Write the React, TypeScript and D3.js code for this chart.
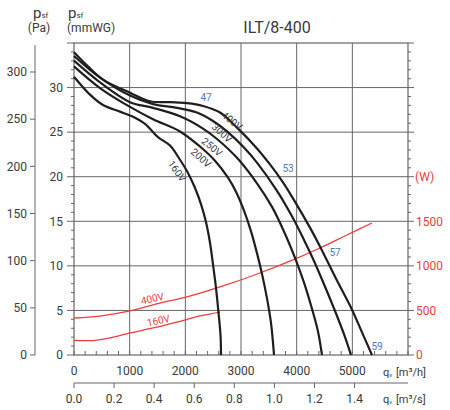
import React from "react";
import * as d3 from "d3";

// Fan curves: flow q [m³/h], static pressure psf [Pa]
const q400 = [0, 251, 521, 1006, 1365, 1725, 2030, 2317, 2623, 2928, 3287, 3521, 3754, 3934, 4239, 4419, 4706, 4994, 5174, 5353];
const p400 = [321, 306, 292, 278, 269, 268, 267, 264, 257, 241, 219, 202, 183, 166, 135, 115, 81, 48, 24, 0];
const q300 = [0, 467, 1006, 1419, 1850, 2209, 2497, 2748, 3036, 3287, 3647, 3916, 4132, 4293, 4491, 4707, 4850, 4976];
const p300 = [317, 294, 275, 266, 262, 257, 248, 237, 221, 204, 174, 147, 122, 102, 75, 44, 22, 0];
const q250 = [0, 467, 1006, 1419, 1904, 2317, 2569, 2928, 3287, 3557, 3772, 3970, 4131, 4275, 4383, 4455];
const p250 = [312, 289, 268, 262, 253, 240, 229, 209, 182, 157, 131, 103, 77, 49, 25, 0];
const q200 = [0, 467, 1006, 1419, 1904, 2263, 2533, 2767, 2910, 3054, 3180, 3287, 3377, 3467, 3539, 3593];
const p200 = [306, 283, 263, 250, 237, 221, 206, 188, 173, 153, 131, 108, 86, 60, 34, 0];
const q160 = [0, 287, 521, 826, 1042, 1275, 1509, 1725, 1904, 2048, 2174, 2281, 2371, 2443, 2497, 2551, 2596, 2632, 2641];
const p160 = [295, 276, 265, 258, 253, 245, 231, 222, 207, 193, 177, 160, 141, 119, 96, 71, 45, 21, 0];

// Power curves: flow q [m³/h], power [W]
const qW400 = [0, 467, 1006, 1545, 2030, 2622, 3341, 3933, 4418, 4903, 5352];
const w400 = [415, 437, 494, 583, 651, 763, 920, 1066, 1200, 1346, 1481];
const qW160 = [0, 341, 647, 1006, 1419, 1850, 2263, 2622];
const w160 = [165, 162, 191, 247, 303, 370, 438, 482];

// Ticks
const paTicks = [0, 50, 100, 150, 200, 250, 300];
const mmTicks = [0, 5, 10, 15, 20, 25, 30];
const wTicks = [0, 500, 1000, 1500];
const qhTicks = [0, 1000, 2000, 3000, 4000, 5000];
const qsTicks = [0, 0.2, 0.4, 0.6, 0.8, 1.0, 1.2, 1.4];

// Labels
const curveNames = ["400V", "300V", "250V", "200V", "160V"];
const soundLabels = ["47", "53", "57", "59"];

const X0 = 74, X1 = 408, Y0 = 355, Y1 = 43;

export default function App() {
  const x = d3.scaleLinear().domain([0, 6000]).range([X0, X1]);
  const xs = d3.scaleLinear().domain([0, 6000 / 3600]).range([X0, X1]);
  const yMm = d3.scaleLinear().domain([0, 35]).range([Y0, Y1]);
  const yPa = d3.scaleLinear().domain([0, 300]).range([Y0, 72]);
  const yW = d3.scaleLinear().domain([0, 3500]).range([Y0, Y1]);

  const fanLine = d3
    .line<[number, number]>()
    .x((d) => x(d[0]))
    .y((d) => yPa(d[1]))
    .curve(d3.curveCatmullRom.alpha(0.5));
  const powLine = d3
    .line<[number, number]>()
    .x((d) => x(d[0]))
    .y((d) => yW(d[1]))
    .curve(d3.curveCatmullRom.alpha(0.5));

  const zip = (a: number[], b: number[]) => a.map((v, i) => [v, b[i]] as [number, number]);
  const fans = [
    zip(q400, p400),
    zip(q300, p300),
    zip(q250, p250),
    zip(q200, p200),
    zip(q160, p160),
  ];

  const font = "Roboto, 'DejaVu Sans', sans-serif";
  const grid = "#666";
  const txt = "#3a3a3a";
  const red = "#f23c3c";
  const blue = "#4f78c4";

  const mmMinor = d3.range(0, 36, 1);
  const wMinor = d3.range(0, 3501, 100);
  const qMinor = d3.range(0, 6001, 200);

  const curveLabelPos = [
    { x: 232, y: 121, a: 38 },
    { x: 222, y: 133, a: 42 },
    { x: 212, y: 147, a: 40 },
    { x: 201, y: 158, a: 42 },
    { x: 177, y: 171, a: 55 },
  ];
  const soundPos = [
    { x: 206, y: 101 },
    { x: 288, y: 172 },
    { x: 335, y: 256 },
    { x: 377, y: 350 },
  ];

  return (
    <svg
      width={450}
      height={410}
      style={{ position: "absolute", left: 0, top: 0, background: "#fff" }}
      fontFamily={font}
    >
      <rect x={0} y={0} width={450} height={410} fill="#fff" />
      {mmTicks.slice(1).map((t) => (
        <line key={"h" + t} x1={X0} x2={X1} y1={yMm(t)} y2={yMm(t)} stroke={grid} strokeWidth={1} />
      ))}
      {qhTicks.slice(1).map((t) => (
        <line key={"v" + t} x1={x(t)} x2={x(t)} y1={Y1} y2={Y0} stroke={grid} strokeWidth={1} />
      ))}
      <rect x={X0} y={Y1} width={X1 - X0} height={Y0 - Y1} fill="none" stroke={grid} strokeWidth={1.2} />

      {mmMinor.map((t) => (
        <line key={"mm" + t} x1={t % 5 === 0 ? X0 - 7 : X0 - 3} x2={X0} y1={yMm(t)} y2={yMm(t)} stroke={grid} strokeWidth={1} />
      ))}
      {mmTicks.map((t) => (
        <text key={"mmt" + t} x={63} y={yMm(t)} dy="0.36em" textAnchor="end" fontSize={12} fill={txt}>
          {t}
        </text>
      ))}

      <line x1={35} x2={35} y1={45} y2={Y0} stroke={grid} strokeWidth={1} />
      {paTicks.map((t) => (
        <g key={"pa" + t}>
          <line x1={30} x2={35} y1={yPa(t)} y2={yPa(t)} stroke={grid} strokeWidth={1} />
          <text x={27} y={yPa(t)} dy="0.36em" textAnchor="end" fontSize={12} fill={txt}>
            {t}
          </text>
        </g>
      ))}

      {wMinor.map((t) => (
        <line key={"w" + t} x1={X1} x2={t % 500 === 0 ? X1 + 6 : X1 + 3} y1={yW(t)} y2={yW(t)} stroke={grid} strokeWidth={1} />
      ))}
      {wTicks.map((t) => (
        <text key={"wt" + t} x={416} y={yW(t)} dy="0.36em" fontSize={12} fill={red}>
          {t}
        </text>
      ))}
      <text x={415} y={yW(2000)} dy="0.36em" fontSize={12} fill={red}>
        (W)
      </text>

      {qMinor.map((t) => (
        <line key={"qm" + t} x1={x(t)} x2={x(t)} y1={Y0 - 4} y2={Y0} stroke={grid} strokeWidth={1} />
      ))}
      {qhTicks.map((t) => (
        <text key={"qh" + t} x={x(t)} y={375} textAnchor="middle" fontSize={12} fill={txt}>
          {t}
        </text>
      ))}
      <text x={383} y={376} fontSize={11} fill={txt}>
        q<tspan fontSize={6} dy={1}>v</tspan>
        <tspan dy={-1} dx={1}> [m³/h]</tspan>
      </text>

      <line x1={X0} x2={X1} y1={383} y2={383} stroke={grid} strokeWidth={1} />
      {qsTicks.map((t) => (
        <g key={"qs" + t}>
          <line x1={xs(t)} x2={xs(t)} y1={383} y2={388} stroke={grid} strokeWidth={1} />
          <text x={xs(t)} y={403} textAnchor="middle" fontSize={12} fill={txt}>
            {t.toFixed(1)}
          </text>
        </g>
      ))}
      <text x={383} y={403} fontSize={11} fill={txt}>
        q<tspan fontSize={6} dy={1}>v</tspan>
        <tspan dy={-1} dx={1}> [m³/s]</tspan>
      </text>

      <text x={33} y={18} fontSize={15} fill={txt}>
        p<tspan fontSize={8}>sf</tspan>
      </text>
      <text x={39} y={32} textAnchor="middle" fontSize={12} fill={txt}>
        (Pa)
      </text>
      <text x={68} y={18} fontSize={15} fill={txt}>
        p<tspan fontSize={8}>sf</tspan>
      </text>
      <text x={67} y={32} fontSize={12} fill={txt}>
        (mmWG)
      </text>

      <text x={277} y={33} textAnchor="middle" fontSize={16} fill={txt}>
        ILT/8-400
      </text>

      <path d={powLine(zip(qW400, w400)) || ""} fill="none" stroke={red} strokeWidth={1.3} />
      <path d={powLine(zip(qW160, w160)) || ""} fill="none" stroke={red} strokeWidth={1.3} />
      <text transform="translate(153,302) rotate(-12)" textAnchor="middle" fontSize={10} fill={red}>
        400V
      </text>
      <text transform="translate(159,324) rotate(-12)" textAnchor="middle" fontSize={10} fill={red}>
        160V
      </text>

      {fans.map((f, i) => (
        <path key={"f" + i} d={fanLine(f) || ""} fill="none" stroke="#1e1e1e" strokeWidth={2.2} />
      ))}
      {curveNames.map((n, i) => (
        <text
          key={"cl" + n}
          transform={`translate(${curveLabelPos[i].x},${curveLabelPos[i].y}) rotate(${curveLabelPos[i].a})`}
          textAnchor="middle"
          dy="0.35em"
          fontSize={10}
          fill={txt}
        >
          {n}
        </text>
      ))}
      {soundLabels.map((s, i) => (
        <text key={"s" + s} x={soundPos[i].x} y={soundPos[i].y} textAnchor="middle" fontSize={10} fill={blue}>
          {s}
        </text>
      ))}
    </svg>
  );
}
